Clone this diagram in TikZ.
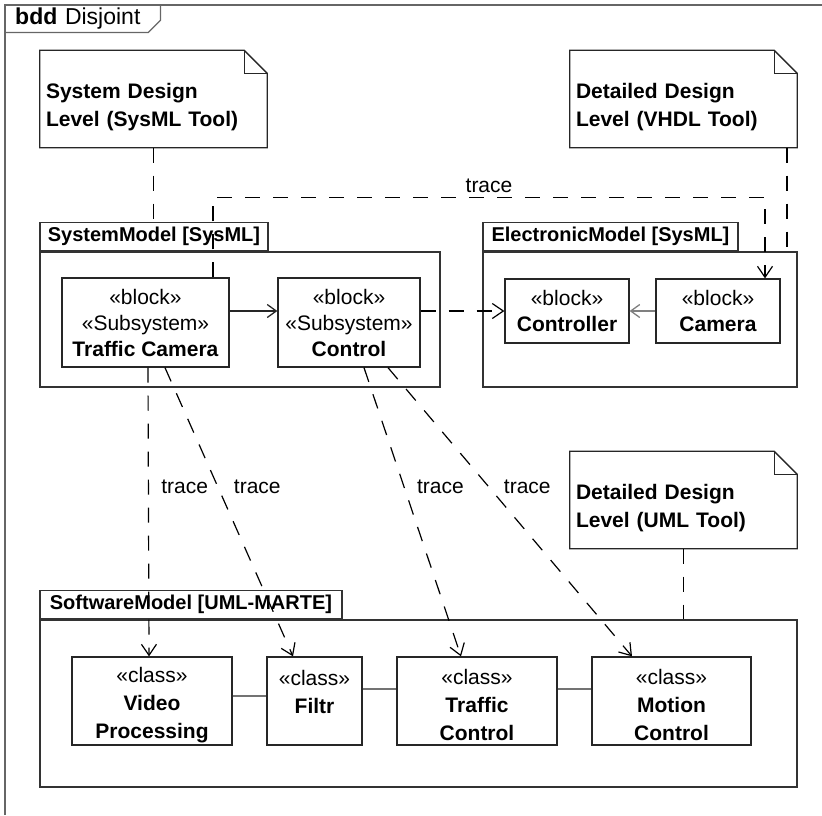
\documentclass[tikz,border=0pt]{standalone}
\usepackage{fontspec}
\setmainfont{Liberation Sans}
\usetikzlibrary{positioning,arrows.meta,calc}
\newcommand{\classhead}{\rule{0pt}{24pt}«class»}
\tikzset{
    every node/.style={font=\fontsize{21}{26}\selectfont},
    frameline/.style={draw=black!60,line width=1.3pt},
    boxline/.style={draw=black!85,line width=1.3pt},
    titletab/.style={anchor=north west,text width=135pt,inner xsep=10pt,inner ysep=0pt,minimum height=27pt,align=left,font=\fontsize{23}{26}\selectfont},
    note/.style={minimum width=227pt,minimum height=97pt,text width=215pt,inner xsep=6pt,align=left,
        font=\fontsize{21}{28}\selectfont\bfseries,execute at begin node={\rule{0pt}{32pt}}},
    pkg/.style={draw=black!80,line width=1.3pt,minimum height=135pt,inner sep=0pt},
    pkgtab/.style={draw=black!80,line width=1.3pt,minimum height=28pt,inner sep=0pt,anchor=south west,
        font=\fontsize{20}{24}\selectfont\bfseries},
    blockbox/.style={draw=black!85,line width=1.3pt,align=center,inner sep=0pt},
    classbox/.style={blockbox,minimum height=88pt,font=\fontsize{21}{28}\selectfont},
    trace/.style={draw=black,line width=1.2pt,dash pattern=on 15pt off 13pt,-{Straight Barb[length=11pt,width=15pt]}},
    noteline/.style={draw=black,line width=1.2pt,dash pattern=on 15pt off 13pt},
    solidarrow/.style={draw=black!85,line width=1.3pt,-{Straight Barb[length=9pt,width=13pt]}},
    greyarrow/.style={draw=black!50,line width=1.3pt,-{Straight Barb[length=9pt,width=13pt]}},
    assoc/.style={draw=black!55,line width=1.3pt}
}

\begin{document}
\begin{tikzpicture}[x=1pt,y=-1pt]
\useasboundingbox (0,0) rectangle (822,815);

% diagram frame
\coordinate (frameBL) at (5,815);
\coordinate (frameTR) at (822,5);
\draw[frameline] (frameBL) |- (frameTR);
\node[titletab] (title) at (5,5) {\textbf{bdd} Disjoint};
\draw[frameline] (title.south west) -- ([xshift=-12pt]title.south east) -- ([yshift=12pt]title.south east) -- (title.north east);

% notes
\node[note] (sysNote) at (153.5,99) {System Design\\Level (SysML Tool)};
\node[note] (vhdlNote) at (683.5,99) {Detailed Design\\Level (VHDL Tool)};
\node[note] (umlNote) at (683.5,500) {Detailed Design\\Level (UML Tool)};
\foreach \n in {sysNote,vhdlNote,umlNote}{
    \draw[boxline] (\n.north west) -- ([xshift=-23pt]\n.north east) -- ([yshift=-23pt]\n.north east) -- (\n.south east) -- (\n.south west) -- cycle;
    \draw[boxline] ([xshift=-23pt]\n.north east) |- ([yshift=-23pt]\n.north east);
}

% packages
\node[pkg,minimum width=400pt] (sysPkg) at (240,319.5) {};
\node[pkgtab,minimum width=228pt] (sysTab) at (sysPkg.north west) {SystemModel [SysML]};
\node[pkg,minimum width=314pt] (elecPkg) at (640,319.5) {};
\node[pkgtab,minimum width=255pt] (elecTab) at (elecPkg.north west) {ElectronicModel [SysML]};
\node[pkg,minimum width=757pt,minimum height=167pt] (swPkg) at (418.5,703.5) {};
\node[pkgtab,minimum width=302pt] (swTab) at (swPkg.north west) {SoftwareModel [UML-MARTE]};

% blocks
\node[blockbox,minimum width=167pt,minimum height=89pt] (trafCam) at (145.5,322.5) {«block»\\«Subsystem»\\\textbf{Traffic Camera}};
\node[blockbox,minimum width=142pt,minimum height=89pt] (ctrl) at (349,322.5) {«block»\\«Subsystem»\\\textbf{Control}};
\node[blockbox,minimum width=124pt,minimum height=64pt] (controller) at (567,311) {«block»\\\textbf{Controller}};
\node[blockbox,minimum width=124pt,minimum height=64pt] (camera) at (718,311) {«block»\\\textbf{Camera}};

% classes
\node[classbox,minimum width=160pt] (vidProc) at (152,701) {\classhead\\\textbf{Video}\\\textbf{Processing}};
\node[classbox,minimum width=95pt] (filtr) at (314.5,701) {\classhead\\\textbf{Filtr}\\\mbox{}};
\node[classbox,minimum width=160pt] (trafCtrl) at (477,701) {\classhead\\\textbf{Traffic}\\\textbf{Control}};
\node[classbox,minimum width=159pt] (motCtrl) at (671.5,701) {\classhead\\\textbf{Motion}\\\textbf{Control}};

% note anchors
\draw[noteline] (sysNote.south) -- (sysNote.south |- sysTab.north);
\draw[noteline] ([xshift=103.5pt]vhdlNote.south) -- ([xshift=103.5pt]vhdlNote.south |- elecPkg.north);
\draw[noteline] (umlNote.south) -- (umlNote.south |- swPkg.north);

% block connectors
\draw[solidarrow] ([yshift=11.5pt]trafCam.east) -- ([yshift=11.5pt]ctrl.west);
\draw[trace] ([yshift=11.5pt]ctrl.east) -- (controller.west);
\draw[greyarrow] (camera.west) -- (controller.east);

% traces
\draw[trace] ([xshift=67.5pt]trafCam.north) -- ++(0,-80) -| ([xshift=47pt]camera.north) node[pos=0.25,above=1pt] {trace};
\draw[trace] ([xshift=2.5pt]trafCam.south) -- ([xshift=-3pt]vidProc.north) node[pos=0.414,right=9pt] {trace};
\draw[trace] ([xshift=19.5pt]trafCam.south) -- ([xshift=-21.5pt]filtr.north) node[pos=0.414,right=12pt] {trace};
\draw[trace] ([xshift=15pt]ctrl.south) -- ([xshift=-16pt]trafCtrl.north) node[pos=0.414,right=9pt] {trace};
\draw[trace] ([xshift=39pt]ctrl.south) -- ([xshift=-39.5pt]motCtrl.north) node[pos=0.414,right=11pt] {trace};

% associations
\draw[assoc] ([yshift=5pt]vidProc.east) -- ([yshift=5pt]filtr.west);
\draw[assoc] ([yshift=12pt]filtr.east) -- ([yshift=12pt]trafCtrl.west);
\draw[assoc] ([yshift=12pt]trafCtrl.east) -- ([yshift=12pt]motCtrl.west);
\end{tikzpicture}
\end{document}
